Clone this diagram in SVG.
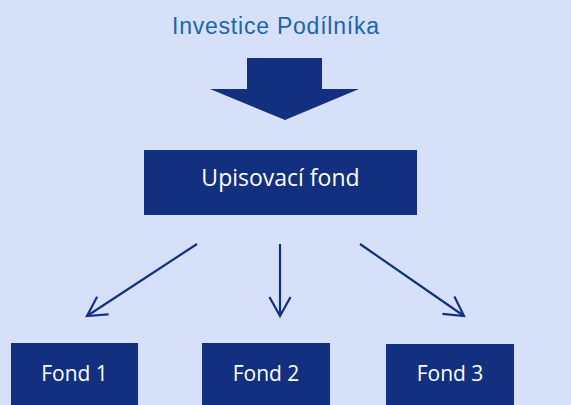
<svg xmlns="http://www.w3.org/2000/svg" width="571" height="405" viewBox="0 0 571 405">
<style>
.box{fill:#12307F}
.lbl{font-family:"Open Sans","Noto Sans","Liberation Sans",sans-serif;fill:#FFFFFF;text-anchor:middle}
.conn{stroke:#12307F;stroke-width:2.2;fill:none;marker-end:url(#vh)}
</style>
<defs>
<marker id="vh" markerUnits="userSpaceOnUse" markerWidth="30" markerHeight="30" refX="20" refY="11" orient="auto" viewBox="0 0 30 22">
<path d="M2,1 L20,11 L2,21" fill="none" stroke="#12307F" stroke-width="2.2" stroke-linecap="square"/>
</marker>
</defs>
<rect width="571" height="405" fill="#D6E0F8"/>
<g id="title">
<text x="275.5" y="34" font-family="'Liberation Sans',Arial,sans-serif" font-size="23" fill="#1A64B0" text-anchor="middle" textLength="207" lengthAdjust="spacing">Investice Podílníka</text>
</g>
<g id="bigarrow">
<polygon points="247,58 322,58 322,89 359,89 285,120 210,89 247,89" fill="#12307F"/>
</g>
<g id="upisovaci">
<rect class="box" x="144" y="150" width="273" height="65"/>
<text class="lbl" x="280.5" y="186" font-size="23">Upisovací fond</text>
</g>
<g id="fond1">
<rect class="box" x="11" y="343" width="127" height="62"/>
<text class="lbl" x="74.5" y="381" font-size="21">Fond 1</text>
</g>
<g id="fond2">
<rect class="box" x="202" y="343" width="128" height="62"/>
<text class="lbl" x="266" y="381" font-size="21">Fond 2</text>
</g>
<g id="fond3">
<rect class="box" x="386" y="344" width="128" height="61"/>
<text class="lbl" x="450" y="381" font-size="21">Fond 3</text>
</g>
<g id="connectors">
<line class="conn" x1="197" y1="244" x2="87" y2="316"/>
<line class="conn" x1="280" y1="244" x2="280" y2="316"/>
<line class="conn" x1="360" y1="244" x2="464" y2="316"/>
</g>
</svg>
